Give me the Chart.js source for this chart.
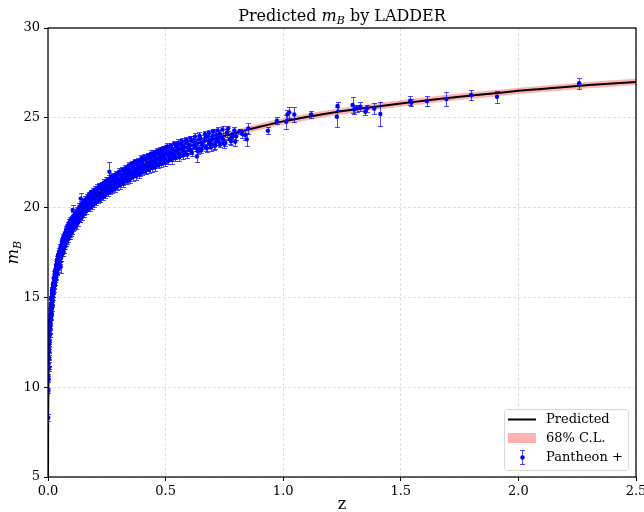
<!DOCTYPE html>
<html>
<head>
<meta charset="utf-8">
<script src="https://cdn.jsdelivr.net/npm/chart.js@4.4.0/dist/chart.umd.min.js"></script>
<style>
  html, body { margin: 0; padding: 0; background: #fff; }
</style>
</head>
<body>
<canvas id="myChart" width="644" height="512"></canvas>
<script>
// predicted curve and its 68% band
const predZ = [0.0001, 0.0002, 0.0003, 0.0005, 0.001, 0.002, 0.003, 0.005, 0.0075, 0.01,
    0.015, 0.02, 0.025, 0.03, 0.04, 0.05, 0.06, 0.07, 0.08, 0.1,
    0.12, 0.15, 0.2, 0.25, 0.3, 0.35, 0.4, 0.45, 0.5, 0.6,
    0.7, 0.8, 0.9, 1.0, 1.1, 1.2, 1.3, 1.4, 1.5, 1.6,
    1.7, 1.8, 1.9, 2.0, 2.1, 2.2, 2.3, 2.4, 2.5];
const predM = [3.9, 5.3, 6.2, 7.3, 8.8, 10.3, 11.2, 12.3, 13.2, 13.8,
    14.7, 15.3, 15.8, 16.2, 16.8, 17.35, 17.75, 18.1, 18.4, 18.95,
    19.4, 19.95, 20.6, 21.15, 21.6, 22.0, 22.35, 22.65, 22.95, 23.42,
    23.82, 24.17, 24.5, 24.8, 25.05, 25.27, 25.46, 25.63, 25.8, 25.95,
    26.1, 26.24, 26.37, 26.5, 26.61, 26.72, 26.82, 26.91, 27.0];
const predLo = [3.72, 5.12, 6.02, 7.12, 8.62, 10.12, 11.02, 12.12, 13.02, 13.62,
    14.52, 15.12, 15.62, 16.02, 16.62, 17.17, 17.57, 17.92, 18.22, 18.77,
    19.22, 19.77, 20.42, 20.97, 21.42, 21.82, 22.17, 22.47, 22.77, 23.24,
    23.64, 23.99, 24.32, 24.62, 24.87, 25.09, 25.28, 25.45, 25.62, 25.77,
    25.92, 26.06, 26.19, 26.32, 26.43, 26.54, 26.64, 26.73, 26.82];
const predHi = [4.08, 5.48, 6.38, 7.48, 8.98, 10.48, 11.38, 12.48, 13.38, 13.98,
    14.88, 15.48, 15.98, 16.38, 16.98, 17.53, 17.93, 18.28, 18.58, 19.13,
    19.58, 20.13, 20.78, 21.33, 21.78, 22.18, 22.53, 22.83, 23.13, 23.6,
    24.0, 24.35, 24.68, 24.98, 25.23, 25.45, 25.64, 25.81, 25.98, 26.13,
    26.28, 26.42, 26.55, 26.68, 26.79, 26.9, 27.0, 27.09, 27.18];

// Pantheon+ points, one row of 10 per line
const zObs = [
    0.0012, 0.0015, 0.0018, 0.0021, 0.0024, 0.0027, 0.0030, 0.0034, 0.0038, 0.0042,
    0.0046, 0.0050, 0.0055, 0.0060, 0.0065, 0.0070, 0.0075, 0.0080, 0.0085, 0.0090,
    0.0095, 0.0100, 0.0105, 0.0110, 0.0115, 0.0120, 0.0125, 0.0130, 0.0135, 0.0140,
    0.0145, 0.0150, 0.0155, 0.0160, 0.0165, 0.0170, 0.0175, 0.0180, 0.0185, 0.0190,
    0.0195, 0.0200, 0.0210, 0.0220, 0.0230, 0.0240, 0.0250, 0.0260, 0.0270, 0.0280,
    0.0290, 0.0300, 0.0315, 0.0330, 0.0345, 0.0360, 0.0375, 0.0390, 0.0405, 0.0420,
    0.0435, 0.0450, 0.0465, 0.0480, 0.0495, 0.0510, 0.0525, 0.0540, 0.0555, 0.0570,
    0.0585, 0.0600, 0.0615, 0.0630, 0.0645, 0.0660, 0.0675, 0.0690, 0.0705, 0.0720,
    0.0735, 0.0750, 0.0765, 0.0780, 0.0795, 0.0810, 0.0825, 0.0840, 0.0855, 0.0870,
    0.0885, 0.0900, 0.0915, 0.0930, 0.0945, 0.0960, 0.0975, 0.0990, 0.1005, 0.1020,
    0.105, 0.107, 0.110, 0.113, 0.116, 0.119, 0.122, 0.125, 0.128, 0.131,
    0.134, 0.137, 0.139, 0.142, 0.145, 0.148, 0.151, 0.154, 0.157, 0.160,
    0.164, 0.168, 0.172, 0.176, 0.180, 0.184, 0.188, 0.192, 0.196, 0.200,
    0.205, 0.210, 0.215, 0.220, 0.225, 0.230, 0.235, 0.240, 0.245, 0.250,
    0.255, 0.261, 0.265, 0.270, 0.275, 0.280, 0.285, 0.290, 0.295, 0.300,
    0.304, 0.309, 0.313, 0.318, 0.322, 0.327, 0.331, 0.336, 0.340, 0.345,
    0.349, 0.354, 0.358, 0.363, 0.367, 0.372, 0.376, 0.381, 0.385, 0.390,
    0.394, 0.399, 0.403, 0.408, 0.412, 0.417, 0.421, 0.426, 0.430, 0.435,
    0.439, 0.444, 0.448, 0.453, 0.457, 0.462, 0.466, 0.471, 0.475, 0.480,
    0.484, 0.489, 0.493, 0.498, 0.503, 0.508, 0.513, 0.518, 0.523, 0.528,
    0.533, 0.538, 0.544, 0.549, 0.555, 0.560, 0.566, 0.572, 0.578, 0.584,
    0.590, 0.596, 0.602, 0.608, 0.615, 0.622, 0.629, 0.633, 0.640, 0.648,
    0.655, 0.663, 0.671, 0.679, 0.688, 0.697, 0.706, 0.716, 0.726, 0.737,
    0.748, 0.760, 0.772, 0.785, 0.796,
    0.838, 0.845, 0.852, 0.935, 0.973, 1.013, 1.018, 1.026, 1.047, 1.119,
    1.228, 1.231, 1.295, 1.302, 1.313, 1.328, 1.349, 1.356, 1.387, 1.413,
    1.540, 1.545, 1.611, 1.694, 1.799, 1.909, 2.258,
    0.0112, 0.0128, 0.0142, 0.0158, 0.0172, 0.0188, 0.0205, 0.0225, 0.0245, 0.0265,
    0.0285, 0.0310, 0.0335, 0.0355, 0.0380, 0.0400, 0.0425, 0.0445, 0.0470, 0.0500,
    0.0530, 0.0560, 0.0590, 0.0620, 0.0650, 0.0680, 0.0710, 0.0740, 0.0770, 0.0800,
    0.0830, 0.0860, 0.0890, 0.0920, 0.0950, 0.0980, 0.1010, 0.1040, 0.1080, 0.1120,
    0.115, 0.118, 0.124, 0.127, 0.133, 0.136, 0.141, 0.144, 0.149, 0.153,
    0.158, 0.162, 0.166, 0.170, 0.174, 0.178, 0.182, 0.186, 0.190, 0.194,
    0.198, 0.203, 0.208, 0.213, 0.218, 0.223, 0.228, 0.233, 0.238, 0.243,
    0.248, 0.253, 0.258, 0.263, 0.268, 0.273, 0.278, 0.283, 0.288, 0.293,
    0.302, 0.307, 0.316, 0.320, 0.329, 0.334, 0.343, 0.347, 0.356, 0.361,
    0.369, 0.374, 0.383, 0.388, 0.397, 0.401, 0.410, 0.415, 0.424, 0.428,
    0.437, 0.442, 0.451, 0.455, 0.464, 0.469, 0.478, 0.482, 0.491, 0.496,
    0.506, 0.511, 0.521, 0.526, 0.536, 0.541, 0.552, 0.558, 0.569, 0.575,
    0.587, 0.593, 0.605, 0.612, 0.625, 0.636, 0.644, 0.652, 0.667, 0.675,
    0.684, 0.692, 0.702, 0.711, 0.721, 0.731, 0.742, 0.754, 0.766, 0.778,
    0.0118, 0.0133, 0.0148, 0.0163, 0.0178, 0.0193, 0.0215, 0.0235, 0.0255, 0.0275,
    0.0295, 0.0325, 0.0350, 0.0370, 0.0395, 0.0415, 0.0440, 0.0460, 0.0490, 0.0515,
    0.0545, 0.0575, 0.0605, 0.0635, 0.0665, 0.0695, 0.0725, 0.0755, 0.0785, 0.0815,
    0.0845, 0.0875, 0.0905, 0.0935, 0.0965, 0.0995, 0.1035, 0.1065, 0.1095, 0.1125,
    0.117, 0.121, 0.126, 0.130, 0.135, 0.140, 0.146, 0.152, 0.159, 0.165,
    0.171, 0.177, 0.183, 0.189, 0.195, 0.202, 0.209, 0.216, 0.224, 0.232,
    0.239, 0.247, 0.256, 0.263, 0.271, 0.279, 0.287, 0.294, 0.259, 0.269,
    0.306, 0.315, 0.325, 0.335, 0.344, 0.353, 0.362, 0.371, 0.380, 0.389,
    0.398, 0.407, 0.416, 0.425, 0.434, 0.443, 0.452, 0.461, 0.470, 0.479,
    0.488, 0.497, 0.507, 0.517, 0.527, 0.537, 0.547, 0.557, 0.568, 0.579,
    0.591, 0.603, 0.616, 0.628, 0.642, 0.656, 0.670, 0.685, 0.700, 0.715,
    0.730, 0.745, 0.762, 0.780, 0.792, 0.800, 0.815, 0.826, 0.720, 0.695];
const mObs = [
    8.3, 9.8, 10.6, 10.4, 11.0, 11.3, 11.1, 11.7, 11.6, 12.1,
    12.0, 12.4, 12.6, 12.5, 12.9, 13.1, 12.9, 13.4, 13.3, 13.7,
    13.6, 14.0, 13.7, 14.2, 13.9, 14.35, 14.1, 14.5, 14.3, 14.65,
    14.45, 14.9, 14.6, 15.05, 14.75, 15.2, 14.85, 15.3, 15.05, 15.45,
    15.15, 15.5, 15.3, 15.7, 15.45, 15.85, 15.65, 16.05, 15.8, 16.15,
    15.95, 16.35, 16.1, 16.55, 16.25, 16.7, 16.45, 16.9, 16.6, 17.05,
    16.8, 17.25, 16.95, 17.4, 17.1, 17.6, 17.25, 16.7, 17.75, 17.4,
    17.95, 17.55, 18.05, 17.7, 18.2, 17.85, 18.3, 17.95, 18.4, 18.0,
    18.5, 18.15, 18.6, 18.25, 18.7, 18.35, 18.8, 18.45, 18.85, 18.5,
    18.95, 18.55, 19.05, 18.65, 19.1, 18.75, 19.2, 18.85, 19.25, 18.9,
    19.87, 19.0, 19.45, 19.05, 19.55, 19.2, 19.65, 19.3, 19.75, 19.4,
    19.9, 19.5, 20.5, 20.0, 19.65, 20.15, 19.8, 20.3, 19.9, 20.4,
    20.0, 20.5, 20.1, 20.6, 20.2, 20.7, 20.3, 20.8, 20.35, 20.85,
    20.5, 21.0, 20.6, 21.1, 20.7, 21.15, 20.8, 21.3, 20.9, 21.35,
    21.0, 22.0, 21.5, 21.1, 21.6, 21.2, 21.7, 21.3, 21.8, 21.4,
    21.9, 21.5, 21.75, 21.4, 22.0, 21.65, 21.85, 21.55, 22.1, 21.75,
    22.0, 21.8, 22.3, 21.9, 22.15, 21.85, 22.4, 22.05, 22.25, 21.95,
    22.55, 22.2, 22.4, 22.1, 22.65, 22.3, 22.5, 22.2, 22.8, 22.45,
    22.65, 22.3, 22.9, 22.55, 22.75, 22.45, 23.05, 22.7, 22.9, 22.55,
    23.15, 22.8, 23.0, 22.65, 23.3, 22.95, 23.1, 22.75, 23.35, 23.0,
    23.2, 22.85, 23.45, 23.1, 23.3, 22.95, 23.55, 23.2, 23.4, 23.05,
    23.65, 23.3, 23.5, 23.15, 23.75, 23.4, 23.6, 22.85, 23.3, 23.85,
    23.5, 23.7, 23.35, 23.95, 23.6, 23.8, 23.45, 24.05, 23.7, 23.9,
    23.55, 24.15, 23.8, 24.0, 23.67,
    24.04, 23.8, 24.41, 24.28, 24.84, 24.78, 25.19, 25.3, 25.19, 25.19,
    25.06, 25.66, 25.71, 25.47, 25.53, 25.62, 25.34, 25.53, 25.52, 25.21,
    25.95, 25.85, 25.93, 26.05, 26.27, 26.17, 26.92,
    14.4, 13.9, 14.9, 14.4, 15.4, 14.8, 15.7, 15.2, 16.1, 15.6,
    16.45, 15.85, 16.8, 16.2, 17.1, 16.5, 17.35, 16.75, 17.55, 17.0,
    17.8, 17.2, 18.1, 17.45, 18.35, 17.7, 18.55, 17.85, 18.8, 18.1,
    19.0, 18.25, 19.15, 18.4, 19.3, 18.6, 19.4, 18.7, 19.55, 18.9,
    19.65, 18.95, 19.85, 19.15, 20.05, 19.4, 20.2, 19.5, 20.3, 19.65,
    20.45, 19.8, 20.55, 19.95, 20.7, 20.0, 20.85, 20.1, 20.9, 20.2,
    21.0, 20.3, 21.1, 20.4, 21.2, 20.5, 21.3, 20.6, 21.4, 20.7,
    21.5, 20.8, 21.6, 20.9, 21.7, 21.0, 21.75, 21.05, 21.85, 21.15,
    22.0, 21.25, 22.1, 21.35, 22.2, 21.45, 22.35, 21.55, 22.45, 21.7,
    22.55, 21.75, 22.6, 21.85, 22.75, 21.95, 22.8, 22.05, 22.9, 22.1,
    23.0, 22.2, 23.05, 22.25, 23.15, 22.35, 23.2, 22.45, 23.3, 22.5,
    23.4, 22.6, 23.45, 22.65, 23.55, 22.75, 23.6, 22.8, 23.7, 22.9,
    23.75, 22.95, 23.85, 23.05, 23.95, 23.15, 24.0, 23.2, 24.1, 23.3,
    24.15, 23.35, 24.25, 23.45, 24.3, 23.5, 24.35, 23.6, 24.4, 23.7,
    14.3, 14.25, 14.9, 14.7, 15.25, 15.05, 15.7, 15.5, 16.05, 15.8,
    16.35, 16.15, 16.7, 16.42, 16.97, 16.68, 17.22, 16.92, 17.48, 17.2,
    17.75, 17.47, 17.97, 17.67, 18.18, 17.88, 18.37, 18.06, 18.55, 18.24,
    18.73, 18.42, 18.9, 18.58, 19.06, 18.74, 19.23, 18.9, 19.37, 19.04,
    19.53, 19.22, 19.72, 19.4, 19.89, 19.58, 20.08, 19.78, 20.28, 19.97,
    20.46, 20.14, 20.62, 20.28, 20.75, 20.43, 20.9, 20.58, 21.07, 20.75,
    21.23, 20.92, 21.41, 21.08, 21.55, 21.22, 21.69, 21.35, 21.24, 21.33,
    21.85, 21.52, 22.0, 21.68, 22.15, 21.82, 22.29, 21.96, 22.42, 22.08,
    22.54, 22.2, 22.66, 22.31, 22.76, 22.41, 22.87, 22.52, 22.97, 22.62,
    23.08, 22.73, 23.18, 22.83, 23.28, 22.93, 23.38, 23.03, 23.48, 23.13,
    23.58, 23.24, 23.69, 23.34, 23.8, 23.45, 23.91, 23.56, 24.02, 23.67,
    24.13, 23.78, 24.2, 23.9, 24.3, 23.97, 24.25, 24.1, 23.89, 23.8];
const mErr = [
    0.2, 0.15, 0.12, 0.12, 0.1, 0.12, 0.1, 0.12, 0.1, 0.12,
    0.1, 0.12, 0.1, 0.12, 0.1, 0.12, 0.1, 0.12, 0.1, 0.12,
    0.12, 0.15, 0.12, 0.18, 0.12, 0.15, 0.12, 0.15, 0.18, 0.12,
    0.12, 0.15, 0.12, 0.18, 0.12, 0.15, 0.12, 0.15, 0.18, 0.12,
    0.12, 0.15, 0.12, 0.18, 0.12, 0.15, 0.12, 0.15, 0.18, 0.12,
    0.12, 0.15, 0.12, 0.18, 0.12, 0.15, 0.12, 0.15, 0.18, 0.12,
    0.15, 0.12, 0.15, 0.18, 0.12, 0.15, 0.12, 0.35, 0.15, 0.12,
    0.15, 0.12, 0.18, 0.15, 0.12, 0.15, 0.18, 0.12, 0.15, 0.12,
    0.15, 0.12, 0.18, 0.15, 0.12, 0.15, 0.18, 0.12, 0.15, 0.12,
    0.15, 0.12, 0.18, 0.15, 0.12, 0.15, 0.18, 0.12, 0.15, 0.12,
    0.3, 0.15, 0.12, 0.18, 0.15, 0.12, 0.18, 0.15, 0.12, 0.15,
    0.15, 0.12, 0.3, 0.15, 0.18, 0.12, 0.15, 0.18, 0.12, 0.15,
    0.15, 0.18, 0.12, 0.15, 0.2, 0.15, 0.12, 0.18, 0.15, 0.2,
    0.15, 0.18, 0.12, 0.15, 0.2, 0.15, 0.12, 0.18, 0.15, 0.2,
    0.15, 0.55, 0.18, 0.15, 0.2, 0.15, 0.18, 0.15, 0.2, 0.15,
    0.2, 0.15, 0.18, 0.15, 0.2, 0.15, 0.22, 0.15, 0.2, 0.18,
    0.2, 0.15, 0.18, 0.15, 0.2, 0.15, 0.22, 0.15, 0.2, 0.18,
    0.2, 0.15, 0.18, 0.15, 0.2, 0.15, 0.22, 0.15, 0.2, 0.18,
    0.2, 0.15, 0.18, 0.15, 0.2, 0.15, 0.22, 0.15, 0.2, 0.18,
    0.2, 0.15, 0.18, 0.15, 0.2, 0.15, 0.22, 0.15, 0.2, 0.18,
    0.2, 0.15, 0.18, 0.15, 0.2, 0.15, 0.22, 0.15, 0.2, 0.18,
    0.22, 0.15, 0.2, 0.18, 0.22, 0.15, 0.2, 0.3, 0.18, 0.22,
    0.2, 0.2, 0.18, 0.22, 0.2, 0.2, 0.25, 0.22, 0.2, 0.22,
    0.25, 0.22, 0.25, 0.2, 0.25,
    0.3, 0.35, 0.3, 0.2, 0.2, 0.4, 0.25, 0.3, 0.4, 0.2,
    0.55, 0.2, 0.45, 0.25, 0.2, 0.25, 0.2, 0.2, 0.3, 0.65,
    0.25, 0.2, 0.3, 0.4, 0.3, 0.35, 0.3,
    0.18, 0.15, 0.2, 0.15, 0.18, 0.2, 0.15, 0.18, 0.2, 0.15,
    0.18, 0.15, 0.2, 0.15, 0.18, 0.2, 0.15, 0.18, 0.2, 0.15,
    0.18, 0.15, 0.2, 0.15, 0.18, 0.2, 0.15, 0.18, 0.2, 0.15,
    0.18, 0.15, 0.2, 0.15, 0.18, 0.2, 0.15, 0.18, 0.2, 0.15,
    0.18, 0.15, 0.2, 0.15, 0.18, 0.2, 0.15, 0.18, 0.2, 0.15,
    0.18, 0.15, 0.2, 0.15, 0.18, 0.2, 0.15, 0.18, 0.2, 0.15,
    0.18, 0.15, 0.2, 0.15, 0.18, 0.2, 0.15, 0.18, 0.2, 0.15,
    0.18, 0.15, 0.2, 0.15, 0.18, 0.2, 0.15, 0.18, 0.2, 0.15,
    0.18, 0.2, 0.15, 0.2, 0.18, 0.15, 0.2, 0.18, 0.15, 0.2,
    0.18, 0.2, 0.15, 0.2, 0.18, 0.15, 0.2, 0.18, 0.15, 0.2,
    0.18, 0.2, 0.15, 0.2, 0.18, 0.15, 0.2, 0.18, 0.15, 0.2,
    0.18, 0.2, 0.15, 0.2, 0.18, 0.15, 0.2, 0.18, 0.15, 0.2,
    0.18, 0.2, 0.15, 0.2, 0.18, 0.15, 0.2, 0.18, 0.15, 0.2,
    0.18, 0.2, 0.15, 0.2, 0.18, 0.15, 0.2, 0.18, 0.15, 0.2,
    0.15, 0.18, 0.15, 0.2, 0.15, 0.18, 0.15, 0.2, 0.15, 0.18,
    0.15, 0.18, 0.15, 0.2, 0.15, 0.18, 0.15, 0.2, 0.15, 0.18,
    0.15, 0.18, 0.15, 0.2, 0.15, 0.18, 0.15, 0.2, 0.15, 0.18,
    0.15, 0.18, 0.15, 0.2, 0.15, 0.18, 0.15, 0.2, 0.15, 0.18,
    0.15, 0.18, 0.15, 0.2, 0.15, 0.18, 0.15, 0.2, 0.15, 0.18,
    0.15, 0.18, 0.15, 0.2, 0.15, 0.18, 0.15, 0.2, 0.15, 0.18,
    0.15, 0.18, 0.15, 0.2, 0.15, 0.18, 0.15, 0.2, 0.15, 0.18,
    0.18, 0.2, 0.15, 0.2, 0.18, 0.2, 0.15, 0.2, 0.18, 0.2,
    0.18, 0.2, 0.15, 0.2, 0.18, 0.2, 0.15, 0.2, 0.18, 0.2,
    0.18, 0.2, 0.15, 0.2, 0.18, 0.2, 0.15, 0.2, 0.18, 0.2,
    0.18, 0.2, 0.15, 0.2, 0.18, 0.2, 0.15, 0.2, 0.18, 0.2,
    0.18, 0.2, 0.15, 0.2, 0.18, 0.2, 0.15, 0.2, 0.18, 0.2];

const xTicks = [0, 0.5, 1.0, 1.5, 2.0, 2.5];
const yTicks = [5, 10, 15, 20, 25, 30];

const serif = "'DejaVu Serif', 'Liberation Serif', serif";
const blue = '#0000ff';
const barColor = 'rgba(0, 0, 255, 0.7)';
const bandColor = 'rgba(255, 0, 0, 0.3)';

const obsPoints = zObs.map((z, i) => ({ x: z, y: mObs[i] }));
const predPoints = predZ.map((z, i) => ({ x: z, y: predM[i] }));
const loPoints = predZ.map((z, i) => ({ x: z, y: predLo[i] }));
const hiPoints = predZ.map((z, i) => ({ x: z, y: predHi[i] }));

// draws text made of pieces (normal / italic / subscript), centred on cx
function drawPieces(ctx, pieces, cx, cy) {
    let w = 0;
    pieces.forEach(p => { ctx.font = p.font; w += ctx.measureText(p.t).width; });
    let x = cx - w / 2;
    ctx.textAlign = 'left';
    ctx.textBaseline = 'alphabetic';
    pieces.forEach(p => {
        ctx.font = p.font;
        ctx.fillText(p.t, x, cy + (p.dy || 0));
        x += ctx.measureText(p.t).width;
    });
}

const errorBars = {
    id: 'errorBars',
    beforeDatasetDraw(chart, args) {
        if (args.index !== 0) return;
        const { ctx, chartArea, scales: { x, y } } = chart;
        ctx.save();
        ctx.beginPath();
        ctx.rect(chartArea.left, chartArea.top, chartArea.right - chartArea.left, chartArea.bottom - chartArea.top);
        ctx.clip();
        ctx.strokeStyle = barColor;
        ctx.lineWidth = 1;
        for (let i = 0; i < zObs.length; i++) {
            const px = Math.round(x.getPixelForValue(zObs[i])) + 0.5;
            const top = Math.round(y.getPixelForValue(mObs[i] + mErr[i])) + 0.5;
            const bot = Math.round(y.getPixelForValue(mObs[i] - mErr[i])) + 0.5;
            ctx.beginPath();
            ctx.moveTo(px, top); ctx.lineTo(px, bot);
            ctx.moveTo(px - 2.5, top); ctx.lineTo(px + 2.5, top);
            ctx.moveTo(px - 2.5, bot); ctx.lineTo(px + 2.5, bot);
            ctx.stroke();
        }
        ctx.restore();
    }
};

const decorations = {
    id: 'decorations',
    afterDraw(chart) {
        const { ctx, chartArea: a } = chart;
        ctx.save();
        // frame
        ctx.strokeStyle = '#000';
        ctx.lineWidth = 1.25;
        ctx.strokeRect(a.left, a.top, a.right - a.left, a.bottom - a.top);

        ctx.fillStyle = '#000';
        const cx = (a.left + a.right) / 2;
        // title
        drawPieces(ctx, [
            { t: 'Predicted ', font: '16px ' + serif },
            { t: 'm', font: 'italic 16px ' + serif },
            { t: 'B', font: 'italic 11px ' + serif, dy: 3 },
            { t: ' by LADDER', font: '16px ' + serif }
        ], cx, 21);
        // x label
        drawPieces(ctx, [{ t: 'z', font: '16px ' + serif }], cx, 509);
        // y label
        ctx.save();
        ctx.translate(18, (a.top + a.bottom) / 2);
        ctx.rotate(-Math.PI / 2);
        drawPieces(ctx, [
            { t: 'm', font: 'italic 16px ' + serif },
            { t: 'B', font: 'italic 11px ' + serif, dy: 3 }
        ], 0, 0);
        ctx.restore();

        // legend
        const lx = a.right - 132, ly = a.bottom - 68, lw = 124, lh = 61;
        ctx.beginPath();
        ctx.roundRect(lx + 0.5, ly + 0.5, lw, lh, 3);
        ctx.fillStyle = 'rgba(255, 255, 255, 0.8)';
        ctx.fill();
        ctx.strokeStyle = '#d6d6d6';
        ctx.lineWidth = 1;
        ctx.stroke();

        ctx.strokeStyle = '#000';
        ctx.lineWidth = 2;
        ctx.beginPath();
        ctx.moveTo(lx + 4, ly + 10.5); ctx.lineTo(lx + 32, ly + 10.5);
        ctx.stroke();

        ctx.fillStyle = bandColor;
        ctx.fillRect(lx + 4, ly + 24, 28, 10);

        const ex = lx + 18.5;
        ctx.strokeStyle = barColor;
        ctx.lineWidth = 1;
        ctx.beginPath();
        ctx.moveTo(ex, ly + 41.5); ctx.lineTo(ex, ly + 55.5);
        ctx.moveTo(ex - 2.5, ly + 41.5); ctx.lineTo(ex + 2.5, ly + 41.5);
        ctx.moveTo(ex - 2.5, ly + 55.5); ctx.lineTo(ex + 2.5, ly + 55.5);
        ctx.stroke();
        ctx.fillStyle = blue;
        ctx.beginPath();
        ctx.arc(ex, ly + 48.5, 2.2, 0, Math.PI * 2);
        ctx.fill();

        ctx.fillStyle = '#000';
        ctx.font = '13px ' + serif;
        ctx.textAlign = 'left';
        ctx.textBaseline = 'middle';
        ctx.fillText('Predicted', lx + 42, ly + 10.5);
        ctx.fillText('68% C.L.', lx + 42, ly + 29.5);
        ctx.fillText('Pantheon +', lx + 42, ly + 48.5);
        ctx.restore();
    }
};

Chart.defaults.font.family = serif;
Chart.defaults.color = '#000';

const ctx = document.querySelector('#myChart').getContext('2d');
myChart = new Chart(ctx, {
    type: 'scatter',
    data: {
        datasets: [
            {
                label: 'Pantheon +',
                data: obsPoints,
                backgroundColor: blue,
                borderColor: blue,
                borderWidth: 0,
                pointRadius: 2.2,
                order: 1
            },
            {
                type: 'line',
                label: 'Predicted',
                data: predPoints,
                borderColor: '#000',
                borderWidth: 2,
                pointRadius: 0,
                cubicInterpolationMode: 'monotone',
                fill: false,
                order: 2
            },
            {
                type: 'line',
                label: 'lo',
                data: loPoints,
                borderWidth: 0,
                borderColor: 'rgba(0,0,0,0)',
                pointRadius: 0,
                cubicInterpolationMode: 'monotone',
                fill: false,
                order: 3
            },
            {
                type: 'line',
                label: '68% C.L.',
                data: hiPoints,
                borderWidth: 0,
                borderColor: 'rgba(0,0,0,0)',
                backgroundColor: bandColor,
                pointRadius: 0,
                cubicInterpolationMode: 'monotone',
                fill: '-1',
                order: 3
            }
        ]
    },
    options: {
        responsive: false,
        animation: false,
        layout: { padding: { left: 12, right: 8, top: 28, bottom: 12 } },
        plugins: {
            legend: { display: false },
            tooltip: { enabled: false },
            title: { display: false }
        },
        scales: {
            x: {
                type: 'linear',
                min: 0,
                max: 2.5,
                afterBuildTicks: scale => { scale.ticks = xTicks.map(v => ({ value: v })); },
                afterFit: scale => { scale.height = 23; scale.paddingLeft = 0; scale.paddingRight = 0; },
                ticks: {
                    callback: v => v.toFixed(1),
                    font: { size: 13 },
                    color: '#000',
                    padding: 3,
                    maxRotation: 0,
                    autoSkip: false
                },
                grid: { color: 'rgba(0,0,0,0.12)', tickColor: '#000', tickLength: 4, lineWidth: 1 },
                border: { display: false, dash: [3, 2] }
            },
            y: {
                type: 'linear',
                min: 5,
                max: 30,
                afterBuildTicks: scale => { scale.ticks = yTicks.map(v => ({ value: v })); },
                afterFit: scale => { scale.width = 36; },
                ticks: {
                    font: { size: 13 },
                    color: '#000',
                    padding: 4,
                    autoSkip: false
                },
                grid: { color: 'rgba(0,0,0,0.12)', tickColor: '#000', tickLength: 4, lineWidth: 1 },
                border: { display: false, dash: [3, 2] }
            }
        }
    },
    plugins: [errorBars, decorations]
});
</script>
</body>
</html>
